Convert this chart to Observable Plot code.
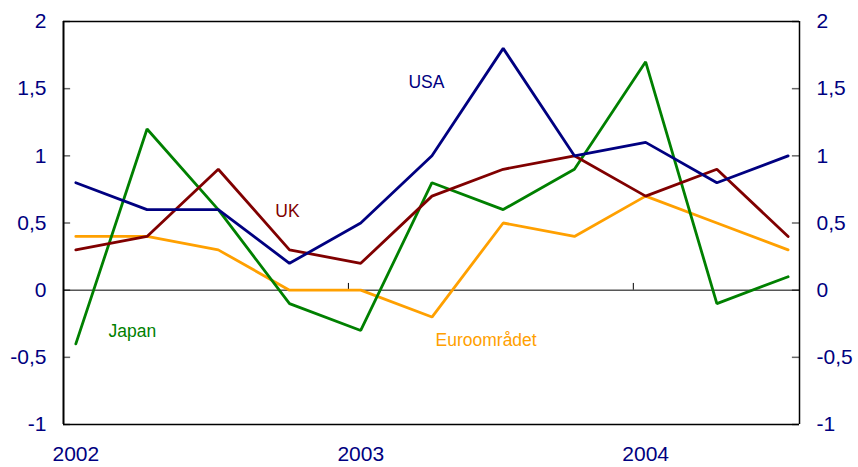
<!DOCTYPE html>
<html>
<head>
<meta charset="utf-8">
<script src="https://cdn.jsdelivr.net/npm/d3@7"></script>
<script src="https://cdn.jsdelivr.net/npm/@observablehq/plot@0.6"></script>
<style>
  html, body { margin: 0; padding: 0; background: #fff; }
</style>
</head>
<body>
<div id="chart"></div>
<script>
const quarters = ["2002K1","2002K2","2002K3","2002K4","2003K1","2003K2","2003K3","2003K4","2004K1","2004K2","2004K3"];
const usa   = [0.8, 0.6, 0.6, 0.2, 0.5, 1.0, 1.8, 1.0, 1.1, 0.8, 1.0];
const uk    = [0.3, 0.4, 0.9, 0.3, 0.2, 0.7, 0.9, 1.0, 0.7, 0.9, 0.4];
const japan = [-0.4, 1.2, 0.6, -0.1, -0.3, 0.8, 0.6, 0.9, 1.7, -0.1, 0.1];
const euro  = [0.4, 0.4, 0.3, 0.0, 0.0, -0.2, 0.5, 0.4, 0.7, 0.5, 0.3];
const yTicks = [-1, -0.5, 0, 0.5, 1, 1.5, 2];
const yearLabels = ["2002", "2003", "2004"];

const seriesDefs = [
  {name: "Euroområdet", values: euro, color: "#FFA000"},
  {name: "Japan", values: japan, color: "#008000"},
  {name: "UK", values: uk, color: "#800000"},
  {name: "USA", values: usa, color: "#000080"}
];
const rows = seriesDefs.flatMap(s => s.values.map((v, i) => ({series: s.name, i, q: quarters[i], v, color: s.color})));

// label positions (quarter index, value)
const labels = [
  {text: "USA", i: 4.67, v: 1.543, color: "#000080"},
  {text: "UK", i: 2.80, v: 0.588, color: "#800000"},
  {text: "Japan", i: 0.46, v: -0.31, color: "#008000"},
  {text: "Euroområdet", i: 5.05, v: -0.373, color: "#FFA000"}
];

const xmin = -0.173, xmax = 10.16;
const yearIdx = yearLabels.map((y, k) => ({label: y, i: 4 * k, b: xmin + 4 * k}));
const fmt = d => String(d).replace(".", ",");

const chart = Plot.plot({
  width: 858,
  height: 467,
  marginLeft: 63,
  marginRight: 59,
  marginTop: 21,
  marginBottom: 43,
  x: {domain: [xmin, xmax], axis: null},
  y: {domain: [-1, 2], axis: null},
  style: {fontFamily: "Liberation Sans, Arial, sans-serif", fontSize: "20px", color: "#000080", background: "#fff"},
  marks: [
    // inward y ticks
    Plot.ruleY(yTicks, {y: d => d, x1: xmin, x2: xmin + 0.1, stroke: "#666", strokeWidth: 1.5}),
    Plot.ruleY(yTicks, {y: d => d, x1: xmax - 0.1, x2: xmax, stroke: "#666", strokeWidth: 1.5}),
    // zero line
    Plot.ruleY([0], {stroke: "#000", strokeWidth: 1}),
    // year boundary ticks
    Plot.ruleX(yearIdx.slice(1), {x: "b", y1: 0, y2: 0.05, stroke: "#000", strokeWidth: 1}),
    // series lines
    Plot.line(rows, {x: "i", y: "v", z: "series", stroke: "color", strokeWidth: 2.8, strokeLinejoin: "miter"}),
    // frame
    Plot.ruleX([xmin], {stroke: "#000", strokeWidth: 2}),
    Plot.ruleX([xmax], {stroke: "#000", strokeWidth: 1.5}),
    Plot.ruleY([2], {stroke: "#000", strokeWidth: 1.5}),
    Plot.ruleY([-1], {stroke: "#000", strokeWidth: 1.5}),
    // y tick labels
    Plot.text(yTicks, {x: xmin, y: d => d, text: fmt, textAnchor: "end", dx: -17, fill: "#000080", fontSize: 21}),
    Plot.text(yTicks, {x: xmax, y: d => d, text: fmt, textAnchor: "start", dx: 17, fill: "#000080", fontSize: 21}),
    // year labels
    Plot.text(yearIdx, {x: "i", y: -1, text: "label", dy: 30, fill: "#000080", fontSize: 21}),
    // series labels
    Plot.text(labels, {x: "i", y: "v", text: "text", fill: "color", fontSize: 17.5, textAnchor: "start"})
  ]
});
document.getElementById("chart").appendChild(chart);
</script>
</body>
</html>
